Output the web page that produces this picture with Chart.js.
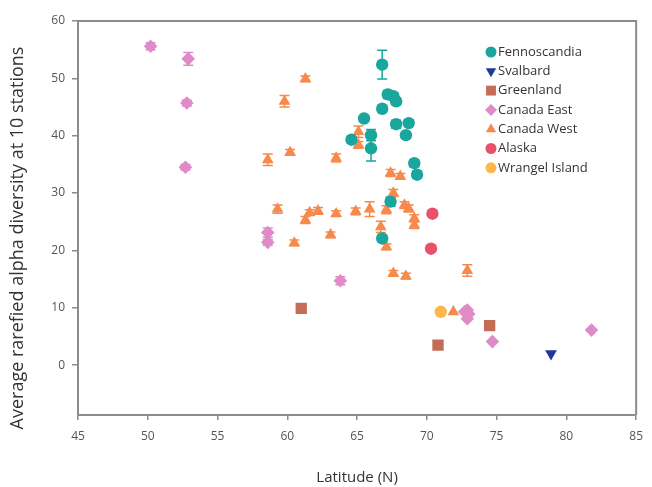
<!DOCTYPE html>
<html>
<head>
<meta charset="utf-8">
<script src="https://cdn.jsdelivr.net/npm/chart.js@4.4.1/dist/chart.umd.min.js"></script>
<style>
  html, body { margin: 0; padding: 0; background: #fff; }
  #wrap { width: 652px; height: 487px; }
</style>
</head>
<body>
<div id="wrap"><canvas id="grafico" width="652" height="487"></canvas></div>
<script>
// eixos
const xTicks = [45, 50, 55, 60, 65, 70, 75, 80, 85];
const yTicks = [0, 10, 20, 30, 40, 50, 60];
const tituloY = "Average rarefied alpha diversity at 10 stations";

// dados: latitude, diversidade, erro
const fennoLat = [66.8, 67.2, 67.6, 67.8, 66.8, 65.5, 67.8, 68.7, 68.5, 66.0, 66.0, 64.6, 69.1, 69.3, 67.4, 66.8];
const fennoVal = [52.4, 47.2, 46.9, 46.0, 44.7, 43.0, 42.0, 42.2, 40.1, 40.1, 37.8, 39.3, 35.2, 33.2, 28.5, 22.1];
const fennoErr = [2.5, 0.7, 0.6, 0.6, 0.5, 0.5, 0.7, 0.6, 0.5, 1.0, 2.2, 0.5, 0.6, 0.6, 0.8, 0.6];

const svalLat = [78.9];
const svalVal = [2.0];

const greenLat = [61.0, 70.8, 74.5];
const greenVal = [9.9, 3.5, 6.9];

const caEastLat = [50.2, 52.9, 52.8, 52.7, 58.6, 58.6, 63.8, 72.7, 72.9, 73.0, 72.9, 74.7, 81.8];
const caEastVal = [55.6, 53.4, 45.7, 34.5, 23.1, 21.4, 14.7, 9.3, 9.6, 8.9, 8.1, 4.1, 6.1];
const caEastErr = [0.6, 1.1, 0.5, 0.5, 0.8, 0.5, 0.7, 0, 0, 0, 0, 0, 0];

const caWestLat = [61.3, 59.8, 58.6, 60.2, 63.5, 65.1, 65.1, 67.4, 68.1, 67.6, 59.3, 61.6, 62.2, 61.3, 63.5,
  64.9, 65.9, 67.1, 68.4, 68.7, 69.1, 69.1, 66.7, 67.1, 63.1, 60.5, 67.6, 68.5, 72.9, 71.9];
const caWestVal = [49.9, 46.0, 35.8, 37.1, 36.1, 40.7, 38.4, 33.5, 32.9, 30.0, 27.2, 26.6, 26.9, 25.3, 26.4,
  26.8, 27.2, 27.1, 27.9, 27.3, 25.6, 24.4, 24.1, 20.6, 22.7, 21.3, 16.0, 15.5, 16.5, 9.3];
const caWestErr = [0.5, 1.0, 1.0, 0.5, 0.7, 1.0, 0.6, 0.6, 0.5, 0.6, 0.7, 0.5, 0.6, 0.6, 0.5,
  0.6, 1.3, 0.7, 0.6, 0.6, 0.6, 0.6, 1.0, 0.5, 0.5, 0.5, 0.5, 0.5, 1.0, 0];

const alaskaLat = [70.4, 70.3];
const alaskaVal = [26.4, 20.3];

const wrangelLat = [71.0];
const wrangelVal = [9.3];

function pontos(lat, val) {
  return lat.map((x, i) => ({ x: x, y: val[i] }));
}

function raio(estilo) {
  if (estilo === "rect") return 8;
  if (estilo === "rectRot" || estilo === "triangle") return 6.8;
  return 6.2;
}

function serie(nome, lat, val, erros, cor, estilo, rot) {
  return {
    label: nome,
    data: pontos(lat, val),
    erros: erros,
    backgroundColor: cor,
    borderColor: cor,
    borderWidth: 0,
    pointStyle: estilo,
    rotation: rot || 0,
    pointRadius: raio(estilo),
    pointHoverRadius: raio(estilo)
  };
}

const datasets = [
  serie("Fennoscandia", fennoLat, fennoVal, fennoErr, "#19a69d", "circle"),
  serie("Svalbard", svalLat, svalVal, null, "#1f3a94", "triangle", 180),
  serie("Greenland", greenLat, greenVal, null, "#c56c57", "rect"),
  serie("Canada East", caEastLat, caEastVal, caEastErr, "#de8bc7", "rectRot"),
  serie("Canada West", caWestLat, caWestVal, caWestErr, "#f68a4c", "triangle"),
  serie("Alaska", alaskaLat, alaskaVal, null, "#e9506b", "circle"),
  serie("Wrangel Island", wrangelLat, wrangelVal, null, "#fdb74a", "circle")
];

/* barras de erro */
const barrasErro = {
  id: "barrasErro",
  beforeDatasetsDraw(chart) {
    const ctx = chart.ctx;
    const xs = chart.scales.x;
    const ys = chart.scales.y;
    chart.data.datasets.forEach(ds => {
      if (!ds.erros) return;
      ctx.save();
      ctx.strokeStyle = ds.backgroundColor;
      ctx.lineWidth = 1.5;
      ds.data.forEach((p, i) => {
        const e = ds.erros[i];
        if (!e) return;
        const x = xs.getPixelForValue(p.x);
        const y1 = ys.getPixelForValue(p.y + e);
        const y2 = ys.getPixelForValue(p.y - e);
        ctx.beginPath();
        ctx.moveTo(x, y1); ctx.lineTo(x, y2);
        ctx.moveTo(x - 5, y1); ctx.lineTo(x + 5, y1);
        ctx.moveTo(x - 5, y2); ctx.lineTo(x + 5, y2);
        ctx.stroke();
      });
      ctx.restore();
    });
  }
};

/* moldura em cima e à direita + título do eixo y */
const moldura = {
  id: "moldura",
  afterDraw(chart) {
    const { ctx, chartArea } = chart;
    ctx.save();
    ctx.strokeStyle = "#8c8c8c";
    ctx.lineWidth = 2;
    ctx.beginPath();
    ctx.moveTo(chartArea.left, chartArea.top);
    ctx.lineTo(chartArea.right, chartArea.top);
    ctx.lineTo(chartArea.right, chartArea.bottom);
    ctx.stroke();

    ctx.translate(18, 238);
    ctx.rotate(-Math.PI / 2);
    ctx.fillStyle = "#333";
    ctx.font = "18px 'Open Sans'";
    ctx.textAlign = "center";
    ctx.textBaseline = "middle";
    ctx.fillText(tituloY, 0, 0);
    ctx.restore();
  }
};

/* legenda dentro do gráfico */
const legenda = {
  id: "legenda",
  afterDraw(chart) {
    const ctx = chart.ctx;
    ctx.save();
    chart.data.datasets.forEach((ds, i) => {
      const y = 52 + i * 19.3;
      ctx.fillStyle = ds.backgroundColor;
      ctx.strokeStyle = ds.backgroundColor;
      Chart.helpers.drawPoint(ctx, {
        pointStyle: ds.pointStyle,
        rotation: ds.rotation,
        radius: ds.pointStyle === "rect" ? 7 : (ds.pointStyle === "circle" ? 5.5 : 6),
        borderWidth: 0
      }, 491, y);
      ctx.fillStyle = "#333";
      ctx.font = "13px 'Open Sans'";
      ctx.textBaseline = "middle";
      ctx.textAlign = "left";
      ctx.fillText(ds.label, 498, y);
    });
    ctx.restore();
  }
};

new Chart(document.getElementById("grafico"), {
  type: "scatter",
  data: { datasets: datasets },
  options: {
    responsive: false,
    animation: false,
    layout: { padding: { top: 21, right: 10, left: 0, bottom: 0 } },
    plugins: {
      legend: { display: false },
      tooltip: { enabled: false }
    },
    scales: {
      x: {
        type: "linear",
        min: 45,
        max: 85,
        afterBuildTicks: s => { s.ticks = xTicks.map(v => ({ value: v })); },
        afterFit: s => { s.height = 72; },
        grid: { drawOnChartArea: false, tickLength: 5, color: "#8c8c8c", lineWidth: 1.5 },
        border: { color: "#8c8c8c", width: 2 },
        ticks: { color: "#555", font: { family: "'Open Sans'", size: 12 }, padding: 9, maxRotation: 0 },
        title: {
          display: true,
          text: "Latitude (N)",
          color: "#333",
          font: { family: "'Open Sans'", size: 15 },
          padding: { top: 0, bottom: 0 }
        }
      },
      y: {
        min: -8.7,
        max: 60,
        afterBuildTicks: s => { s.ticks = yTicks.map(v => ({ value: v })); },
        afterFit: s => { s.width = 78; },
        grid: { drawOnChartArea: false, tickLength: 6, color: "#8c8c8c", lineWidth: 1.5 },
        border: { color: "#8c8c8c", width: 2 },
        ticks: { color: "#555", font: { family: "'Open Sans'", size: 12 }, padding: 7 }
      }
    }
  },
  plugins: [barrasErro, moldura, legenda]
});
</script>
</body>
</html>
